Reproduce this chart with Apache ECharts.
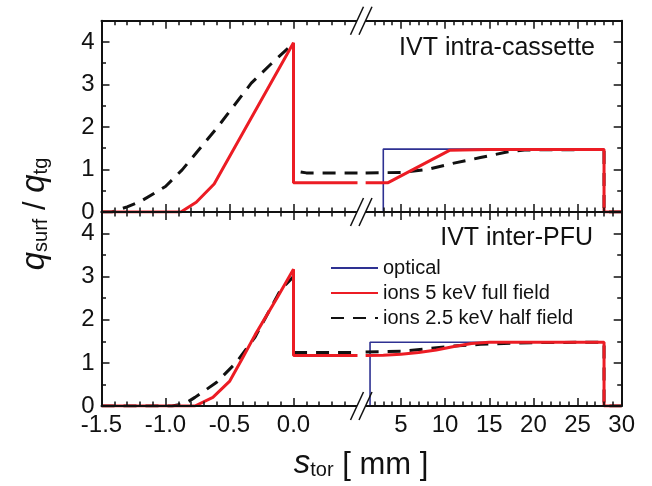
<!DOCTYPE html>
<html><head><meta charset="utf-8">
<script src="https://cdn.jsdelivr.net/npm/echarts@6/dist/echarts.min.js"></script>
<style>html,body{margin:0;padding:0;background:#fff}#c{width:652px;height:486px}</style>
</head><body><div id="c"></div>
<script>
// ---------------- data ----------------
const xTicksLeftMajor = [-1.5, -1.0, -0.5, 0.0];
const xTicksLeftMinor = [-1.4,-1.3,-1.2,-1.1,-0.9,-0.8,-0.7,-0.6,-0.4,-0.3,-0.2,-0.1,0.1,0.2,0.3,0.4];
const xTicksRightMajor = [5, 10, 15, 20, 25, 30];
const xTicksRightMinor = [2,3,4,6,7,8,9,11,12,13,14,16,17,18,19,21,22,23,24,26,27,28,29];
const yTicksMajor = [0, 1, 2, 3, 4];
const yTicksMinor = [0.5, 1.5, 2.5, 3.5];
const seriesNames = ['optical', 'ions 5 keV full field', 'ions 2.5 keV half field'];
const panelTitles = ['IVT intra-cassette', 'IVT inter-PFU'];

// top panel: IVT intra-cassette
const intraOpticalRight = [[1,0],[3,0],[3,1.48],[28,1.48],[28,0],[30,0]];
const intraIons5Left = [[-1.5,0],[-0.88,0],[-0.76,0.23],[-0.62,0.66],[0,3.98],[0,0.69],[0.5,0.69]];
const intraIons5Right = [[1,0.69],[3.55,0.69],[10.5,1.45],[15,1.47],[28,1.47],[28,0],[30,0]];
const intraIons25Left = [[-1.5,0],[-1.42,0],[-1.3,0.12],[-1.2,0.24],[-1.0,0.6],[-0.87,0.99],[-0.73,1.5],[-0.6,1.97],[-0.47,2.48],[-0.33,3.03],[-0.18,3.47],[-0.04,3.86],[0,3.95],[0,0.97],[0.1,0.92],[0.5,0.92]];
const intraIons25Right = [[1,0.92],[5,0.93],[8,1.0],[11,1.15],[14,1.28],[17,1.41],[19,1.46],[28,1.47],[28,0],[30,0]];

// bottom panel: IVT inter-PFU
const interOpticalRight = [[1,0],[1.5,0],[1.5,1.48],[28,1.48],[28,0],[30,0]];
const interIons5Left = [[-1.5,0],[-0.77,0],[-0.63,0.2],[-0.5,0.57],[-0.4,1.1],[-0.3,1.65],[-0.13,2.5],[0,3.17],[0,1.17],[0.5,1.17]];
const interIons5Right = [[1,1.17],[3,1.18],[5,1.2],[7,1.24],[9,1.3],[11,1.38],[13,1.45],[15,1.48],[28,1.48],[28,0],[30,0]];
const interIons25Left = [[-1.5,0],[-0.95,0],[-0.85,0.05],[-0.77,0.2],[-0.6,0.55],[-0.45,1.0],[-0.3,1.6],[-0.1,2.7],[0,3.0],[0,1.24],[0.5,1.24]];
const interIons25Right = [[1,1.25],[5,1.27],[8,1.33],[11,1.39],[14,1.43],[18,1.46],[20,1.47],[28,1.48],[28,0],[30,0]];

// ---------------- layout / style ----------------
const FONT = "'Liberation Sans', Arial, Helvetica, sans-serif";
const RED = '#ec1c24', BLUE = '#2e3192', BLACK = '#111';
const TOP1 = 20.7, MID = 212, BOT = 406;
const LX0 = 101.5, LX1 = 357.5, RX0 = 356.8, RX1 = 621.7;
const grids = [
  {left: LX0, top: TOP1, width: LX1 - LX0, height: MID - TOP1},
  {left: RX0, top: TOP1, width: RX1 - RX0, height: MID - TOP1},
  {left: LX0, top: MID, width: LX1 - LX0, height: BOT - MID},
  {left: RX0, top: MID, width: RX1 - RX0, height: BOT - MID}
].map(g => Object.assign({outerBoundsMode: 'none', containLabel: false}, g));

const xRange = [[-1.5, 0.5], [0, 30], [-1.5, 0.5], [0, 30]];
const xMajor = [xTicksLeftMajor, xTicksRightMajor, xTicksLeftMajor, xTicksRightMajor];
const xMinor = [xTicksLeftMinor, xTicksRightMinor, xTicksLeftMinor, xTicksRightMinor];

const xAxes = [], yAxes = [];
function mkX(g, pos, ticks, len, line, labels) {
  return {
    type: 'value', gridIndex: g, position: pos, min: xRange[g][0], max: xRange[g][1], z: 10,
    axisLine: {show: line, onZero: false, lineStyle: {color: BLACK, width: 2}},
    axisTick: {show: true, inside: true, length: len, customValues: ticks, lineStyle: {color: BLACK, width: 1.5}},
    axisLabel: labels ? {show: true, customValues: ticks, margin: 7, fontSize: 24, fontFamily: FONT, color: BLACK,
      formatter: v => (g === 2 ? v.toFixed(1) : String(v))} : {show: false},
    splitLine: {show: false}
  };
}
function mkY(g, pos, ticks, len, line, labels) {
  return {
    type: 'value', gridIndex: g, position: pos, min: 0, max: 4.5, z: 10,
    axisLine: {show: line, onZero: false, lineStyle: {color: BLACK, width: 2}},
    axisTick: {show: true, inside: true, length: len, customValues: ticks, lineStyle: {color: BLACK, width: 1.5}},
    axisLabel: labels ? {show: true, customValues: ticks, margin: 7, fontSize: 24, fontFamily: FONT, color: BLACK} : {show: false},
    splitLine: {show: false}
  };
}
for (let g = 0; g < 4; g++) {
  xAxes.push(mkX(g, 'bottom', xMajor[g], 8, true, g >= 2));
  xAxes.push(mkX(g, 'bottom', xMinor[g], 4.5, false, false));
  xAxes.push(mkX(g, 'top', xMajor[g], 8, true, false));
  xAxes.push(mkX(g, 'top', xMinor[g], 4.5, false, false));
  const side = (g % 2 === 0) ? 'left' : 'right';
  yAxes.push(mkY(g, side, yTicksMajor, 8, true, g % 2 === 0));
  yAxes.push(mkY(g, side, yTicksMinor, 4.5, false, false));
}

function line(name, g, data, color, width, dashed, z) {
  return {
    type: 'line', name, data, xAxisIndex: g * 4, yAxisIndex: g * 2, symbol: 'none', z,
    lineStyle: {color, width, type: dashed ? [13, 9] : 'solid'}, itemStyle: {color}, animation: false
  };
}
const series = [
  line(seriesNames[0], 1, intraOpticalRight, BLUE, 1.6, false, 2),
  line(seriesNames[2], 0, intraIons25Left, BLACK, 3, true, 3),
  line(seriesNames[2], 1, intraIons25Right, BLACK, 3, true, 3),
  line(seriesNames[1], 0, intraIons5Left, RED, 3, false, 4),
  line(seriesNames[1], 1, intraIons5Right, RED, 3, false, 4),
  line(seriesNames[0], 3, interOpticalRight, BLUE, 1.6, false, 2),
  line(seriesNames[2], 2, interIons25Left, BLACK, 3, true, 3),
  line(seriesNames[2], 3, interIons25Right, BLACK, 3, true, 3),
  line(seriesNames[1], 2, interIons5Left, RED, 3, false, 4),
  line(seriesNames[1], 3, interIons5Right, RED, 3, false, 4)
];

// break marks
const graphics = [];
[TOP1, MID, BOT].forEach(y0 => {
  const x1 = y => 350.5 + 13 * (y0 + 14 - y) / 28;
  const x2 = y => 359 + 13 * (y0 + 14 - y) / 28;
  graphics.push({type: 'polygon', z: 100, shape: {points: [[x1(y0 + 4), y0 + 4], [x1(y0 - 4), y0 - 4], [x2(y0 - 4), y0 - 4], [x2(y0 + 4), y0 + 4]]}, style: {fill: '#fff'}});
  graphics.push({type: 'line', z: 101, shape: {x1: x1(y0 + 14), y1: y0 + 14, x2: x1(y0 - 14), y2: y0 - 14}, style: {stroke: BLACK, lineWidth: 1.5}});
  graphics.push({type: 'line', z: 101, shape: {x1: x2(y0 + 14), y1: y0 + 14, x2: x2(y0 - 14), y2: y0 - 14}, style: {stroke: BLACK, lineWidth: 1.5}});
});
graphics.push({type: 'text', z: 100, x: 595, y: 48, style: {text: panelTitles[0], align: 'right', verticalAlign: 'middle', fontSize: 25, fontFamily: FONT, fill: BLACK}});
graphics.push({type: 'text', z: 100, x: 593, y: 238, style: {text: panelTitles[1], align: 'right', verticalAlign: 'middle', fontSize: 25, fontFamily: FONT, fill: BLACK}});
const rich = {
  q: {fontSize: 33, fontStyle: 'italic', fontFamily: FONT, verticalAlign: 'bottom', lineHeight: 37, fill: BLACK},
  s: {fontSize: 20, fontFamily: FONT, verticalAlign: 'bottom', lineHeight: 12, fill: BLACK},
  n: {fontSize: 31, fontFamily: FONT, verticalAlign: 'bottom', lineHeight: 37, fill: BLACK}
};
graphics.push({type: 'text', z: 100, x: 33, y: 214, rotation: Math.PI / 2,
  style: {text: '{q|q}{s|surf}{n| / }{q|q}{s|tg}', rich, align: 'center', verticalAlign: 'middle'}});
graphics.push({type: 'text', z: 100, x: 361, y: 462,
  style: {text: '{q|s}{s|tor}{n| [ mm ]}', rich, align: 'center', verticalAlign: 'middle'}});

const chart = echarts.init(document.getElementById('c'), null, {renderer: 'canvas'});
chart.setOption({
  animation: false,
  backgroundColor: '#fff',
  grid: grids,
  xAxis: xAxes,
  yAxis: yAxes,
  legend: {
    orient: 'vertical', left: 325, top: 253, itemWidth: 47, itemHeight: 14, itemGap: 5,
    data: seriesNames, selectedMode: false,
    itemStyle: {opacity: 0},
    textStyle: {fontSize: 20, fontFamily: FONT, color: BLACK, lineHeight: 20}
  },
  series,
  graphic: graphics
});
</script></body></html>
